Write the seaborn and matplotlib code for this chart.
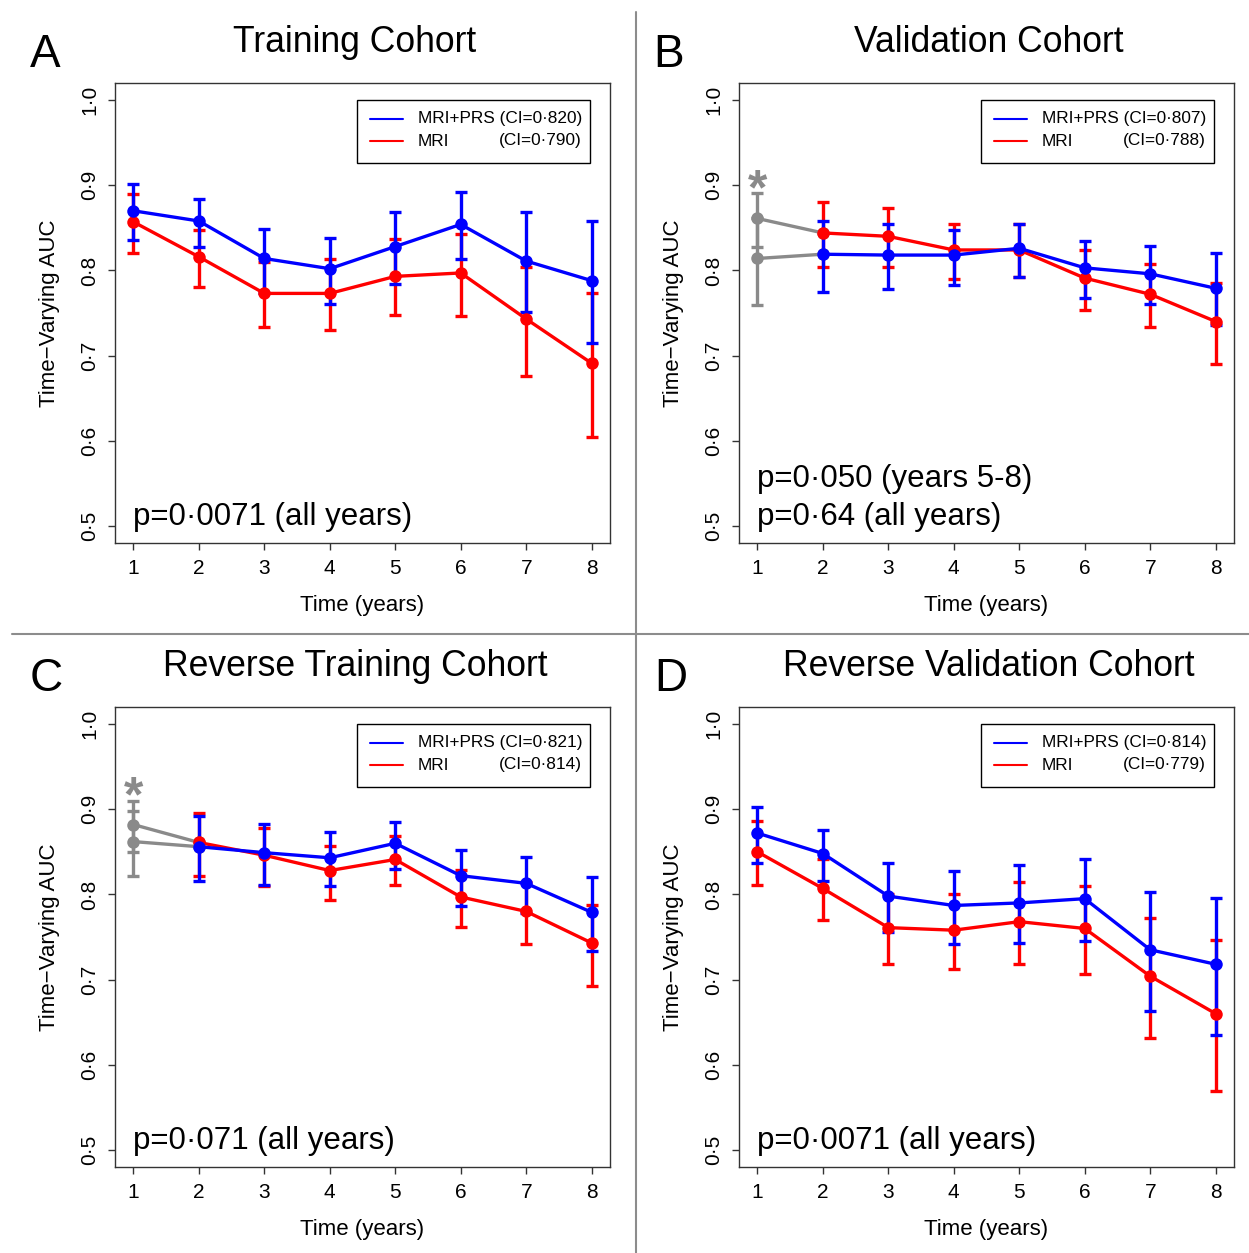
import numpy as np
import pandas as pd
import matplotlib
matplotlib.use('Agg')
import matplotlib.pyplot as plt
import seaborn as sns
from matplotlib.patches import Rectangle
from matplotlib.lines import Line2D

sns.set_style('ticks')
plt.rcParams['font.family'] = ['Liberation Sans', 'DejaVu Sans']
plt.rcParams['text.color'] = 'black'
plt.rcParams['axes.labelcolor'] = 'black'
plt.rcParams['xtick.color'] = 'black'
plt.rcParams['ytick.color'] = 'black'

# ---------------- data ----------------
years = [1, 2, 3, 4, 5, 6, 7, 8]
y_ticks = [0.5, 0.6, 0.7, 0.8, 0.9, 1.0]
y_tick_labels = ['0·5', '0·6', '0·7', '0·8', '0·9', '1·0']
x_tick_labels = ['1', '2', '3', '4', '5', '6', '7', '8']

# Panel A - Training Cohort
A_blue    = [0.870, 0.858, 0.814, 0.802, 0.828, 0.854, 0.811, 0.788]
A_blue_lo = [0.836, 0.828, 0.774, 0.761, 0.784, 0.813, 0.751, 0.715]
A_blue_hi = [0.901, 0.884, 0.849, 0.838, 0.868, 0.892, 0.869, 0.858]
A_red     = [0.857, 0.816, 0.773, 0.773, 0.793, 0.797, 0.743, 0.691]
A_red_lo  = [0.820, 0.781, 0.734, 0.730, 0.748, 0.747, 0.676, 0.604]
A_red_hi  = [0.890, 0.848, 0.810, 0.813, 0.837, 0.843, 0.804, 0.774]

# Panel B - Validation Cohort (year 1 shown in grey)
B_blue    = [0.814, 0.819, 0.818, 0.818, 0.826, 0.803, 0.796, 0.779]
B_blue_lo = [0.759, 0.775, 0.778, 0.783, 0.792, 0.768, 0.760, 0.736]
B_blue_hi = [0.861, 0.858, 0.854, 0.848, 0.855, 0.835, 0.829, 0.820]
B_red     = [0.861, 0.844, 0.840, 0.824, 0.824, 0.791, 0.772, 0.740]
B_red_lo  = [0.827, 0.804, 0.804, 0.790, 0.792, 0.754, 0.734, 0.690]
B_red_hi  = [0.891, 0.880, 0.873, 0.855, 0.855, 0.824, 0.808, 0.785]

# Panel C - Reverse Training Cohort (year 1 shown in grey)
C_blue    = [0.862, 0.856, 0.849, 0.843, 0.860, 0.822, 0.813, 0.779]
C_blue_lo = [0.822, 0.816, 0.811, 0.810, 0.830, 0.786, 0.778, 0.734]
C_blue_hi = [0.898, 0.892, 0.883, 0.873, 0.885, 0.852, 0.844, 0.820]
C_red     = [0.882, 0.861, 0.846, 0.828, 0.841, 0.797, 0.780, 0.743]
C_red_lo  = [0.850, 0.822, 0.810, 0.794, 0.811, 0.762, 0.742, 0.692]
C_red_hi  = [0.910, 0.895, 0.878, 0.857, 0.868, 0.829, 0.815, 0.788]

# Panel D - Reverse Validation Cohort
D_blue    = [0.872, 0.848, 0.798, 0.787, 0.790, 0.795, 0.735, 0.718]
D_blue_lo = [0.837, 0.816, 0.756, 0.742, 0.743, 0.745, 0.663, 0.635]
D_blue_hi = [0.903, 0.876, 0.837, 0.827, 0.834, 0.841, 0.803, 0.796]
D_red     = [0.850, 0.807, 0.761, 0.758, 0.768, 0.760, 0.704, 0.660]
D_red_lo  = [0.811, 0.770, 0.718, 0.713, 0.718, 0.706, 0.632, 0.569]
D_red_hi  = [0.886, 0.841, 0.800, 0.800, 0.815, 0.810, 0.772, 0.747]

titles = ['Training Cohort', 'Validation Cohort',
          'Reverse Training Cohort', 'Reverse Validation Cohort']
letters = ['A', 'B', 'C', 'D']
ci_blue = ['(CI=0·820)', '(CI=0·807)', '(CI=0·821)', '(CI=0·814)']
ci_red = ['(CI=0·790)', '(CI=0·788)', '(CI=0·814)', '(CI=0·779)']
p_texts = [['p=0·0071 (all years)'],
           ['p=0·050 (years 5-8)', 'p=0·64 (all years)'],
           ['p=0·071 (all years)'],
           ['p=0·0071 (all years)']]
grey_first = [False, True, True, False]

panels = [
    (A_blue, A_blue_lo, A_blue_hi, A_red, A_red_lo, A_red_hi),
    (B_blue, B_blue_lo, B_blue_hi, B_red, B_red_lo, B_red_hi),
    (C_blue, C_blue_lo, C_blue_hi, C_red, C_red_lo, C_red_hi),
    (D_blue, D_blue_lo, D_blue_hi, D_red, D_red_lo, D_red_hi),
]

# ---------------- style ----------------
W, H = 1249, 1253
BLUE = '#0000FF'
RED = '#FF0000'
GREY = '#8a8a8a'
EDGE = '#333333'
LW = 2.4
MS = 9
CAP = 4.5
TICK_FS = 15
LAB_FS = 16

fig = plt.figure(figsize=(W / 100, H / 100), dpi=100)

ax_px = [(115, 83), (739, 83), (115, 707), (739, 707)]
AX_W, AX_H = 495, 460
title_px = [(355, 52), (989, 52), (355, 676), (989, 676)]
letter_px = [(30, 67), (653, 67), (30, 691), (654, 691)]


def draw_series(ax, vals, lo, hi, color, start):
    xs = years[start:]
    v = np.array(vals[start:])
    l = np.array(lo[start:])
    h = np.array(hi[start:])
    ax.errorbar(xs, v, yerr=[v - l, h - v], fmt='none', ecolor=color,
                elinewidth=LW, capsize=CAP, capthick=LW, zorder=3)
    sns.lineplot(x=xs, y=v, color=color, lw=LW, marker='o', markersize=MS,
                 markeredgewidth=0, ax=ax, zorder=4)


for i in range(4):
    blue, blue_lo, blue_hi, red, red_lo, red_hi = panels[i]
    lx, ty = ax_px[i]
    ax = fig.add_axes([lx / W, (H - ty - AX_H) / H, AX_W / W, AX_H / H])

    start = 0
    if grey_first[i]:
        start = 1
        for vals, lo, hi in [(red, red_lo, red_hi), (blue, blue_lo, blue_hi)]:
            ax.errorbar([years[0]], [vals[0]], yerr=[[vals[0] - lo[0]], [hi[0] - vals[0]]],
                        fmt='none', ecolor=GREY, elinewidth=LW, capsize=CAP,
                        capthick=LW, zorder=2)
            sns.lineplot(x=years[:2], y=vals[:2], color=GREY, lw=LW, marker='o',
                         markersize=MS, markeredgewidth=0, ax=ax, zorder=2)
        top = max(red_hi[0], blue_hi[0])
        ax.text(years[0], top - 0.013, '*', color=GREY, fontsize=36,
                fontweight='bold', ha='center', va='baseline', zorder=5)

    draw_series(ax, red, red_lo, red_hi, RED, start)
    draw_series(ax, blue, blue_lo, blue_hi, BLUE, start)

    ax.set_xlim(0.72, 8.28)
    ax.set_ylim(0.48, 1.02)
    ax.set_xticks(years)
    ax.set_xticklabels(x_tick_labels, fontsize=TICK_FS)
    ax.set_yticks(y_ticks)
    ax.set_yticklabels(y_tick_labels, fontsize=TICK_FS, rotation=90, va='center')
    ax.tick_params(axis='both', direction='out', length=5, width=1,
                   color=EDGE, pad=6.5, labelcolor='black')
    for sp in ax.spines.values():
        sp.set_visible(True)
        sp.set_color(EDGE)
        sp.set_linewidth(1)

    ax.set_xlabel('Time (years)', fontsize=LAB_FS, va='center')
    ax.xaxis.set_label_coords(0.5, (543 - 605) / AX_H)
    ax.set_ylabel('Time\u2212Varying AUC', fontsize=LAB_FS, va='center')
    ax.yaxis.set_label_coords((50 - 115) / AX_W, 0.5)

    # legend box (manual)
    x0 = (357 - 115) / AX_W
    x1 = (590 - 115) / AX_W
    yb = (543 - 163) / AX_H
    yt = (543 - 100) / AX_H
    ax.add_patch(Rectangle((x0, yb), x1 - x0, yt - yb, transform=ax.transAxes,
                           fill=True, facecolor='white', edgecolor='black',
                           lw=1, zorder=6))
    yl_blue = (543 - 119) / AX_H
    yl_red = (543 - 141) / AX_H
    lx0 = (370 - 115) / AX_W
    lx1 = (403 - 115) / AX_W
    tx = (418 - 115) / AX_W
    tr = (582 - 115) / AX_W
    for yy, col, name, ci in [(yl_blue, BLUE, 'MRI+PRS', ci_blue[i]),
                              (yl_red, RED, 'MRI', ci_red[i])]:
        ax.add_line(Line2D([lx0, lx1], [yy, yy], color=col, lw=1.5,
                           transform=ax.transAxes, zorder=7))
        if name == 'MRI+PRS':
            ax.text(tx, yy, name + ' ' + ci, transform=ax.transAxes, fontsize=12.4,
                    ha='left', va='center', zorder=7)
        else:
            ax.text(tx, yy, name, transform=ax.transAxes, fontsize=12.4,
                    ha='left', va='center', zorder=7)
            ax.text(tr, yy, ci, transform=ax.transAxes, fontsize=12.4,
                    ha='right', va='center', zorder=7)

    # p-value annotations
    lines = p_texts[i]
    ys = [0.057] if len(lines) == 1 else [0.139, 0.057]
    for txt, yy in zip(lines, ys):
        ax.text((133 - 115) / AX_W, yy, txt, transform=ax.transAxes,
                fontsize=22.5, ha='left', va='center')

    # title and panel letter
    tx_, ty_ = title_px[i]
    fig.text(tx_ / W, 1 - ty_ / H, titles[i], fontsize=25.6, ha='center', va='baseline')
    lx_, ly_ = letter_px[i]
    fig.text(lx_ / W, 1 - ly_ / H, letters[i], fontsize=33, ha='left', va='baseline')

# divider lines
fig.add_artist(Line2D([636 / W, 636 / W], [0, 1 - 12 / H], color='#8c8c8c',
                      lw=1.5, transform=fig.transFigure))
fig.add_artist(Line2D([12 / W, 1], [1 - 634 / H, 1 - 634 / H], color='#8c8c8c',
                      lw=1.5, transform=fig.transFigure))

fig.savefig('out.png', dpi=100, facecolor='white')
